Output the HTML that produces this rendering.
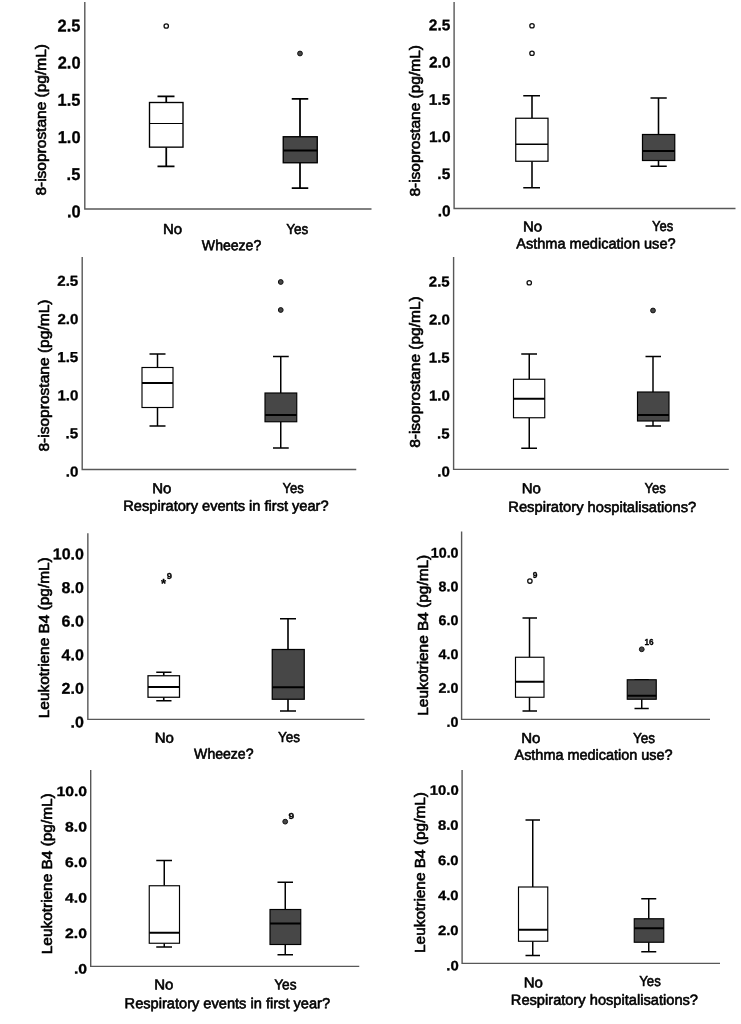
<!DOCTYPE html>
<html lang="en">
<head>
<meta charset="utf-8">
<title>Box plots: 8-isoprostane and Leukotriene B4</title>
<style>
html,body{margin:0;padding:0;background:#fff;}
body{width:741px;height:1024px;overflow:hidden;}
svg{display:block;will-change:transform;}
text{font-family:"Liberation Sans", Arial, sans-serif;fill:#000;stroke:#000;stroke-width:0.6px;stroke-linejoin:round;}
.b{font-weight:bold;stroke-width:0.3px;}
</style>
</head>
<body>
<svg width="741" height="1024" viewBox="0 0 741 1024">
<rect x="0" y="0" width="741" height="1024" fill="#ffffff"/>
<g>
<path d="M84.8 2 V209 H371.5" fill="none" stroke="#585858" stroke-width="1.4"/>
<text class="b" transform="translate(57.57 31.45) rotate(0.03)" font-size="17.1" textLength="22.82" lengthAdjust="spacingAndGlyphs">2.5</text>
<text class="b" transform="translate(57.74 68.6) rotate(0.03)" font-size="17.1" textLength="22.82" lengthAdjust="spacingAndGlyphs">2.0</text>
<text class="b" transform="translate(57.57 105.75) rotate(0.03)" font-size="17.1" textLength="22.82" lengthAdjust="spacingAndGlyphs">1.5</text>
<text class="b" transform="translate(57.74 142.9) rotate(0.03)" font-size="17.1" textLength="22.82" lengthAdjust="spacingAndGlyphs">1.0</text>
<text class="b" transform="translate(66.6 180.05) rotate(0.03)" font-size="17.1" textLength="13.69" lengthAdjust="spacingAndGlyphs">.5</text>
<text class="b" transform="translate(66.93 217.2) rotate(0.03)" font-size="17.1" textLength="13.69" lengthAdjust="spacingAndGlyphs">.0</text>
<text transform="translate(46.3 195) rotate(-90)" x="-0.62" y="0" font-size="13.8" textLength="151.59" lengthAdjust="spacingAndGlyphs">8-isoprostane (pg/mL)</text>
<path d="M166.25 96.25 V102.5 M166.25 147.15 V166.25 M157.5 96.25 H174.5 M157.5 166.25 H174.5" fill="none" stroke="#000" stroke-width="1.75"/>
<rect x="149.5" y="102.5" width="33.5" height="44.65" fill="#fff" stroke="#000" stroke-width="1.36"/>
<path d="M149.5 123.5 H183" stroke="#000" stroke-width="1"/>
<path d="M300 98.75 V136.75 M300 162.75 V188 M291.75 98.75 H308.25 M291.75 188 H308.25" fill="none" stroke="#000" stroke-width="1.75"/>
<rect x="283.25" y="136.75" width="34" height="26" fill="#474747" stroke="#000" stroke-width="1.36"/>
<path d="M283.25 150.5 H317.25" stroke="#000" stroke-width="2"/>
<circle cx="166.25" cy="26" r="2.2" fill="#fff" stroke="#111" stroke-width="1.3"/>
<circle cx="300" cy="53.5" r="2.4" fill="#474747" stroke="#111" stroke-width="1"/>
<text transform="translate(162.95 233.89) rotate(0.03)" font-size="14.6" textLength="19.18" lengthAdjust="spacingAndGlyphs">No</text>
<text transform="translate(286.25 233.89) rotate(0.03)" font-size="14.6" textLength="21.98" lengthAdjust="spacingAndGlyphs">Yes</text>
<text transform="translate(201.86 250.14) rotate(0.03)" font-size="14.6" textLength="59.38" lengthAdjust="spacingAndGlyphs">Wheeze?</text>
</g>
<g>
<path d="M454.1 2 V208.5 H735.5" fill="none" stroke="#585858" stroke-width="1.4"/>
<text class="b" transform="translate(428.85 30.26) rotate(0.03)" font-size="15.4" textLength="21.52" lengthAdjust="spacingAndGlyphs">2.5</text>
<text class="b" transform="translate(429.01 67.47) rotate(0.03)" font-size="15.4" textLength="21.52" lengthAdjust="spacingAndGlyphs">2.0</text>
<text class="b" transform="translate(428.85 104.68) rotate(0.03)" font-size="15.4" textLength="21.52" lengthAdjust="spacingAndGlyphs">1.5</text>
<text class="b" transform="translate(429.01 141.89) rotate(0.03)" font-size="15.4" textLength="21.52" lengthAdjust="spacingAndGlyphs">1.0</text>
<text class="b" transform="translate(437.36 179.1) rotate(0.03)" font-size="15.4" textLength="12.91" lengthAdjust="spacingAndGlyphs">.5</text>
<text class="b" transform="translate(437.67 216.31) rotate(0.03)" font-size="15.4" textLength="12.91" lengthAdjust="spacingAndGlyphs">.0</text>
<text transform="translate(420.05 196) rotate(-90)" x="-0.62" y="0" font-size="13.8" textLength="151.59" lengthAdjust="spacingAndGlyphs">8-isoprostane (pg/mL)</text>
<path d="M532 95.75 V118.25 M532 161.25 V187.75 M523.25 95.75 H540 M523.25 187.75 H540" fill="none" stroke="#000" stroke-width="1.57"/>
<rect x="515.75" y="118.25" width="32.25" height="43" fill="#fff" stroke="#000" stroke-width="1.22"/>
<path d="M515.75 144.25 H548" stroke="#000" stroke-width="1.5"/>
<path d="M658.5 98 V134.5 M658.5 160.5 V166.25 M650.5 98 H666.75 M650.5 166.25 H666.75" fill="none" stroke="#000" stroke-width="1.57"/>
<rect x="642.5" y="134.5" width="32.25" height="26" fill="#474747" stroke="#000" stroke-width="1.22"/>
<path d="M642.5 151 H674.75" stroke="#000" stroke-width="2"/>
<circle cx="532" cy="25.75" r="2.2" fill="#fff" stroke="#111" stroke-width="1.3"/>
<circle cx="532" cy="53.25" r="2.2" fill="#fff" stroke="#111" stroke-width="1.3"/>
<text transform="translate(522.95 231.39) rotate(0.03)" font-size="14.6" textLength="19.18" lengthAdjust="spacingAndGlyphs">No</text>
<text transform="translate(652.01 231.39) rotate(0.03)" font-size="14.6" textLength="21.2" lengthAdjust="spacingAndGlyphs">Yes</text>
<text transform="translate(516.25 248.39) rotate(0.03)" font-size="14.6" textLength="159.34" lengthAdjust="spacingAndGlyphs">Asthma medication use?</text>
</g>
<g>
<path d="M82.2 257 V469.5 H356.25" fill="none" stroke="#585858" stroke-width="1.4"/>
<text class="b" transform="translate(57.24 285.77) rotate(0.03)" font-size="14.4" textLength="21.02" lengthAdjust="spacingAndGlyphs">2.5</text>
<text class="b" transform="translate(57.39 323.91) rotate(0.03)" font-size="14.4" textLength="21.02" lengthAdjust="spacingAndGlyphs">2.0</text>
<text class="b" transform="translate(57.24 362.05) rotate(0.03)" font-size="14.4" textLength="21.02" lengthAdjust="spacingAndGlyphs">1.5</text>
<text class="b" transform="translate(57.39 400.19) rotate(0.03)" font-size="14.4" textLength="21.02" lengthAdjust="spacingAndGlyphs">1.0</text>
<text class="b" transform="translate(65.55 438.33) rotate(0.03)" font-size="14.4" textLength="12.61" lengthAdjust="spacingAndGlyphs">.5</text>
<text class="b" transform="translate(65.86 476.47) rotate(0.03)" font-size="14.4" textLength="12.61" lengthAdjust="spacingAndGlyphs">.0</text>
<text transform="translate(49.3 451) rotate(-90)" x="-0.62" y="0" font-size="13.8" textLength="152.09" lengthAdjust="spacingAndGlyphs">8-isoprostane (pg/mL)</text>
<path d="M157.5 354 V367.5 M157.5 407.5 V425.9 M149.5 354 H165.5 M149.5 425.9 H165.5" fill="none" stroke="#000" stroke-width="1.48"/>
<rect x="142" y="367.5" width="31" height="40" fill="#fff" stroke="#000" stroke-width="1.15"/>
<path d="M142 383 H173" stroke="#000" stroke-width="2"/>
<path d="M280.75 356.5 V393 M280.75 421.75 V448 M273 356.5 H288.75 M273 448 H288.75" fill="none" stroke="#000" stroke-width="1.48"/>
<rect x="265" y="393" width="31.75" height="28.75" fill="#474747" stroke="#000" stroke-width="1.15"/>
<path d="M265 415 H296.75" stroke="#000" stroke-width="2"/>
<circle cx="280.75" cy="282" r="2.4" fill="#474747" stroke="#111" stroke-width="1"/>
<circle cx="280.75" cy="310" r="2.4" fill="#474747" stroke="#111" stroke-width="1"/>
<text transform="translate(152.2 493.14) rotate(0.03)" font-size="14.6" textLength="19.18" lengthAdjust="spacingAndGlyphs">No</text>
<text transform="translate(282.51 493.14) rotate(0.03)" font-size="14.6" textLength="21.2" lengthAdjust="spacingAndGlyphs">Yes</text>
<text transform="translate(123.33 510.64) rotate(0.03)" font-size="14.6" textLength="205.27" lengthAdjust="spacingAndGlyphs">Respiratory events in first year?</text>
</g>
<g>
<path d="M453.6 257 V469.4 H728.75" fill="none" stroke="#585858" stroke-width="1.4"/>
<text class="b" transform="translate(428.79 286.6) rotate(0.03)" font-size="14.5" textLength="20.86" lengthAdjust="spacingAndGlyphs">2.5</text>
<text class="b" transform="translate(428.94 324.6) rotate(0.03)" font-size="14.5" textLength="20.86" lengthAdjust="spacingAndGlyphs">2.0</text>
<text class="b" transform="translate(428.79 362.6) rotate(0.03)" font-size="14.5" textLength="20.86" lengthAdjust="spacingAndGlyphs">1.5</text>
<text class="b" transform="translate(428.94 400.6) rotate(0.03)" font-size="14.5" textLength="20.86" lengthAdjust="spacingAndGlyphs">1.0</text>
<text class="b" transform="translate(437.04 438.6) rotate(0.03)" font-size="14.5" textLength="12.52" lengthAdjust="spacingAndGlyphs">.5</text>
<text class="b" transform="translate(437.34 476.6) rotate(0.03)" font-size="14.5" textLength="12.52" lengthAdjust="spacingAndGlyphs">.0</text>
<text transform="translate(419.8 447.25) rotate(-90)" x="-0.62" y="0" font-size="13.8" textLength="151.59" lengthAdjust="spacingAndGlyphs">8-isoprostane (pg/mL)</text>
<path d="M529.25 354 V379.25 M529.25 417.75 V448.25 M521.25 354 H537 M521.25 448.25 H537" fill="none" stroke="#000" stroke-width="1.48"/>
<rect x="513.5" y="379.25" width="31.25" height="38.5" fill="#fff" stroke="#000" stroke-width="1.15"/>
<path d="M513.5 398.75 H544.75" stroke="#000" stroke-width="2"/>
<path d="M653 356.5 V392 M653 421 V426 M645.5 356.5 H661 M645.5 426 H661" fill="none" stroke="#000" stroke-width="1.48"/>
<rect x="637.5" y="392" width="31.5" height="29" fill="#474747" stroke="#000" stroke-width="1.15"/>
<path d="M637.5 415 H669" stroke="#000" stroke-width="2"/>
<circle cx="529.25" cy="282.75" r="2.2" fill="#fff" stroke="#111" stroke-width="1.3"/>
<circle cx="653" cy="310.5" r="2.4" fill="#474747" stroke="#111" stroke-width="1"/>
<text transform="translate(521.7 493.14) rotate(0.03)" font-size="14.6" textLength="19.18" lengthAdjust="spacingAndGlyphs">No</text>
<text transform="translate(644.51 493.14) rotate(0.03)" font-size="14.6" textLength="21.2" lengthAdjust="spacingAndGlyphs">Yes</text>
<text transform="translate(508.32 511.84) rotate(0.03)" font-size="14.6" textLength="187.93" lengthAdjust="spacingAndGlyphs">Respiratory hospitalisations?</text>
</g>
<g>
<path d="M87.85 533.25 V719.4 H364.5" fill="none" stroke="#585858" stroke-width="1.4"/>
<text class="b" transform="translate(52.77 559.37) rotate(0.03)" font-size="15.7" textLength="31.17" lengthAdjust="spacingAndGlyphs">10.0</text>
<text class="b" transform="translate(61.58 592.98) rotate(0.03)" font-size="15.7" textLength="22.26" lengthAdjust="spacingAndGlyphs">8.0</text>
<text class="b" transform="translate(61.58 626.59) rotate(0.03)" font-size="15.7" textLength="22.26" lengthAdjust="spacingAndGlyphs">6.0</text>
<text class="b" transform="translate(61.58 660.2) rotate(0.03)" font-size="15.7" textLength="22.26" lengthAdjust="spacingAndGlyphs">4.0</text>
<text class="b" transform="translate(61.58 693.81) rotate(0.03)" font-size="15.7" textLength="22.26" lengthAdjust="spacingAndGlyphs">2.0</text>
<text class="b" transform="translate(70.55 727.42) rotate(0.03)" font-size="15.7" textLength="13.36" lengthAdjust="spacingAndGlyphs">.0</text>
<text transform="translate(49.3 717) rotate(-90)" x="-1.23" y="0" font-size="13.8" textLength="160.91" lengthAdjust="spacingAndGlyphs">Leukotriene B4 (pg/mL)</text>
<path d="M163.75 672.25 V675.75 M163.75 697.25 V700.75 M156.25 672.25 H171.5 M156.25 700.75 H171.5" fill="none" stroke="#000" stroke-width="1.61"/>
<rect x="148" y="675.75" width="31.5" height="21.5" fill="#fff" stroke="#000" stroke-width="1.25"/>
<path d="M148 687 H179.5" stroke="#000" stroke-width="2"/>
<path d="M288 618.75 V649.5 M288 699.25 V711 M280 618.75 H296 M280 711 H296" fill="none" stroke="#000" stroke-width="1.61"/>
<rect x="272.25" y="649.5" width="32" height="49.75" fill="#474747" stroke="#000" stroke-width="1.25"/>
<path d="M272.25 687.25 H304.25" stroke="#000" stroke-width="2"/>
<text class="b" x="163.5" y="588" font-size="13" text-anchor="middle">*</text>
<text class="b" x="166.82" y="578.8" font-size="9.5" textLength="5.28" lengthAdjust="spacingAndGlyphs">9</text>
<text transform="translate(154.7 742.64) rotate(0.03)" font-size="14.6" textLength="19.18" lengthAdjust="spacingAndGlyphs">No</text>
<text transform="translate(278 741.84) rotate(0.03)" font-size="14.6" textLength="21.98" lengthAdjust="spacingAndGlyphs">Yes</text>
<text transform="translate(194.11 758.64) rotate(0.03)" font-size="14.6" textLength="59.38" lengthAdjust="spacingAndGlyphs">Wheeze?</text>
</g>
<g>
<path d="M461.6 531.5 V719.4 H710" fill="none" stroke="#585858" stroke-width="1.4"/>
<text class="b" transform="translate(430.77 557.38) rotate(0.03)" font-size="14" textLength="27.79" lengthAdjust="spacingAndGlyphs">10.0</text>
<text class="b" transform="translate(438.62 591.23) rotate(0.03)" font-size="14" textLength="19.85" lengthAdjust="spacingAndGlyphs">8.0</text>
<text class="b" transform="translate(438.62 625.08) rotate(0.03)" font-size="14" textLength="19.85" lengthAdjust="spacingAndGlyphs">6.0</text>
<text class="b" transform="translate(438.62 658.93) rotate(0.03)" font-size="14" textLength="19.85" lengthAdjust="spacingAndGlyphs">4.0</text>
<text class="b" transform="translate(438.62 692.78) rotate(0.03)" font-size="14" textLength="19.85" lengthAdjust="spacingAndGlyphs">2.0</text>
<text class="b" transform="translate(446.62 726.63) rotate(0.03)" font-size="14" textLength="11.91" lengthAdjust="spacingAndGlyphs">.0</text>
<text transform="translate(427.55 714.5) rotate(-90)" x="-1.23" y="0" font-size="13.8" textLength="160.91" lengthAdjust="spacingAndGlyphs">Leukotriene B4 (pg/mL)</text>
<path d="M529.5 618 V657.25 M529.5 697.25 V711 M522.5 618 H537 M522.5 711 H537" fill="none" stroke="#000" stroke-width="1.48"/>
<rect x="515.5" y="657.25" width="28.5" height="40" fill="#fff" stroke="#000" stroke-width="1.15"/>
<path d="M515.5 681.75 H544" stroke="#000" stroke-width="2"/>
<path d="M641.75 679.75 V679.75 M641.75 699.25 V708.5 M634.5 679.75 H648.75 M634.5 708.5 H648.75" fill="none" stroke="#000" stroke-width="1.48"/>
<rect x="627.25" y="679.75" width="29" height="19.5" fill="#474747" stroke="#000" stroke-width="1.15"/>
<path d="M627.25 695.75 H656.25" stroke="#000" stroke-width="2"/>
<circle cx="529.9" cy="581.05" r="2.2" fill="#fff" stroke="#111" stroke-width="1.3"/>
<text class="b" x="532.76" y="578" font-size="8.4" textLength="4.67" lengthAdjust="spacingAndGlyphs">9</text>
<circle cx="641.75" cy="649.3" r="2.4" fill="#474747" stroke="#111" stroke-width="1"/>
<text class="b" x="644.51" y="645" font-size="8.2" textLength="9.12" lengthAdjust="spacingAndGlyphs">16</text>
<text transform="translate(521.2 742.89) rotate(0.03)" font-size="14.6" textLength="19.18" lengthAdjust="spacingAndGlyphs">No</text>
<text transform="translate(633 742.89) rotate(0.03)" font-size="14.6" textLength="21.98" lengthAdjust="spacingAndGlyphs">Yes</text>
<text transform="translate(514.5 759.74) rotate(0.03)" font-size="14.6" textLength="158.08" lengthAdjust="spacingAndGlyphs">Asthma medication use?</text>
</g>
<g>
<path d="M90.7 770 V966.4 H359.25" fill="none" stroke="#585858" stroke-width="1.4"/>
<text class="b" transform="translate(56.43 796.09) rotate(0.03)" font-size="13.6" textLength="30.71" lengthAdjust="spacingAndGlyphs">10.0</text>
<text class="b" transform="translate(65.1 831.55) rotate(0.03)" font-size="13.6" textLength="21.93" lengthAdjust="spacingAndGlyphs">8.0</text>
<text class="b" transform="translate(65.1 867.01) rotate(0.03)" font-size="13.6" textLength="21.93" lengthAdjust="spacingAndGlyphs">6.0</text>
<text class="b" transform="translate(65.1 902.47) rotate(0.03)" font-size="13.6" textLength="21.93" lengthAdjust="spacingAndGlyphs">4.0</text>
<text class="b" transform="translate(65.1 937.93) rotate(0.03)" font-size="13.6" textLength="21.93" lengthAdjust="spacingAndGlyphs">2.0</text>
<text class="b" transform="translate(73.94 973.39) rotate(0.03)" font-size="13.6" textLength="13.16" lengthAdjust="spacingAndGlyphs">.0</text>
<text transform="translate(51.8 953) rotate(-90)" x="-1.23" y="0" font-size="13.8" textLength="160.91" lengthAdjust="spacingAndGlyphs">Leukotriene B4 (pg/mL)</text>
<path d="M164.25 860.5 V885.75 M164.25 943.25 V947 M156.25 860.5 H172 M156.25 947 H172" fill="none" stroke="#000" stroke-width="1.48"/>
<rect x="149.25" y="885.75" width="30.25" height="57.5" fill="#fff" stroke="#000" stroke-width="1.15"/>
<path d="M149.25 932.75 H179.5" stroke="#000" stroke-width="2"/>
<path d="M285.25 882.25 V909.5 M285.25 944.5 V954.75 M277.5 882.25 H293 M277.5 954.75 H293" fill="none" stroke="#000" stroke-width="1.48"/>
<rect x="270" y="909.5" width="30.75" height="35" fill="#474747" stroke="#000" stroke-width="1.15"/>
<path d="M270 923.5 H300.75" stroke="#000" stroke-width="2"/>
<circle cx="285.2" cy="821.65" r="2.4" fill="#474747" stroke="#111" stroke-width="1"/>
<text class="b" x="288.49" y="818.8" font-size="8.2" textLength="5.7" lengthAdjust="spacingAndGlyphs">9</text>
<text transform="translate(154.2 989.39) rotate(0.03)" font-size="14.6" textLength="19.18" lengthAdjust="spacingAndGlyphs">No</text>
<text transform="translate(274.24 989.39) rotate(0.03)" font-size="14.6" textLength="22.24" lengthAdjust="spacingAndGlyphs">Yes</text>
<text transform="translate(124.58 1008.14) rotate(0.03)" font-size="14.6" textLength="205.52" lengthAdjust="spacingAndGlyphs">Respiratory events in first year?</text>
</g>
<g>
<path d="M462.1 770 V963.4 H720" fill="none" stroke="#585858" stroke-width="1.4"/>
<text class="b" transform="translate(429.78 794.76) rotate(0.03)" font-size="13.5" textLength="28.9" lengthAdjust="spacingAndGlyphs">10.0</text>
<text class="b" transform="translate(437.95 829.84) rotate(0.03)" font-size="13.5" textLength="20.64" lengthAdjust="spacingAndGlyphs">8.0</text>
<text class="b" transform="translate(437.95 864.92) rotate(0.03)" font-size="13.5" textLength="20.64" lengthAdjust="spacingAndGlyphs">6.0</text>
<text class="b" transform="translate(437.95 900) rotate(0.03)" font-size="13.5" textLength="20.64" lengthAdjust="spacingAndGlyphs">4.0</text>
<text class="b" transform="translate(437.95 935.08) rotate(0.03)" font-size="13.5" textLength="20.64" lengthAdjust="spacingAndGlyphs">2.0</text>
<text class="b" transform="translate(446.27 970.16) rotate(0.03)" font-size="13.5" textLength="12.39" lengthAdjust="spacingAndGlyphs">.0</text>
<text transform="translate(425.05 951.75) rotate(-90)" x="-1.23" y="0" font-size="13.8" textLength="160.91" lengthAdjust="spacingAndGlyphs">Leukotriene B4 (pg/mL)</text>
<path d="M532.75 820 V887 M532.75 941.25 V955.5 M525.5 820 H540 M525.5 955.5 H540" fill="none" stroke="#000" stroke-width="1.48"/>
<rect x="518.5" y="887" width="29.25" height="54.25" fill="#fff" stroke="#000" stroke-width="1.15"/>
<path d="M518.5 929.75 H547.75" stroke="#000" stroke-width="2"/>
<path d="M648.75 898.75 V918.75 M648.75 942.25 V951.75 M641.25 898.75 H656.25 M641.25 951.75 H656.25" fill="none" stroke="#000" stroke-width="1.48"/>
<rect x="634.25" y="918.75" width="29.5" height="23.5" fill="#474747" stroke="#000" stroke-width="1.15"/>
<path d="M634.25 928.25 H663.75" stroke="#000" stroke-width="2"/>
<text transform="translate(523.7 987.39) rotate(0.03)" font-size="14.6" textLength="19.18" lengthAdjust="spacingAndGlyphs">No</text>
<text transform="translate(639.26 986.39) rotate(0.03)" font-size="14.6" textLength="21.46" lengthAdjust="spacingAndGlyphs">Yes</text>
<text transform="translate(510.83 1004.64) rotate(0.03)" font-size="14.6" textLength="187.17" lengthAdjust="spacingAndGlyphs">Respiratory hospitalisations?</text>
</g>
</svg>
</body>
</html>
